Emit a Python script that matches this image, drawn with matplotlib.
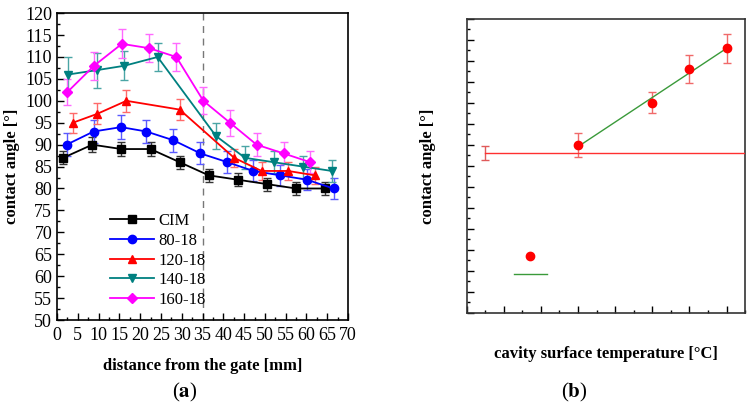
import numpy as np
import matplotlib
matplotlib.use("Agg")
import matplotlib.pyplot as plt
from matplotlib.ticker import MultipleLocator
from matplotlib.lines import Line2D

plt.rcParams['font.family'] = ['Liberation Serif', 'DejaVu Serif']
plt.rcParams['mathtext.fontset'] = 'stix'

# ---- Panel (a) data ----
series_names = ["CIM", "80-18", "120-18", "140-18", "160-18"]

cim_x = [1.5, 8.5, 15.5, 22.5, 29.5, 36.5, 43.5, 50.5, 57.5, 64.5]
cim_y = [87, 90, 89, 89, 86, 83, 82, 81, 80, 80]
cim_e = [1.5, 1.7, 1.7, 1.7, 1.5, 1.5, 1.5, 1.5, 1.5, 1.5]

s80_x = [2.3, 8.8, 15.4, 21.5, 28.0, 34.5, 41.0, 47.2, 53.7, 60.1, 66.5]
s80_y = [90, 93, 94, 93, 91, 88, 86, 84, 83, 82, 80]
s80_e = [2.6, 2.7, 2.8, 2.7, 2.6, 2.5, 2.5, 2.4, 2.4, 2.4, 2.4]

s120_x = [3.8, 9.6, 16.7, 29.5, 42.6, 49.2, 55.6, 62.0]
s120_y = [95, 97, 100, 98, 87, 84, 84, 83]
s120_e = [2.3, 2.4, 2.5, 2.4, 2.0, 2.0, 2.0, 2.0]

s140_x = [2.7, 9.6, 16.2, 24.2, 38.2, 45.2, 52.1, 59.1, 66.1]
s140_y = [106, 107, 108, 110, 92, 87, 86, 85, 84]
s140_e = [4.0, 4.0, 3.3, 3.3, 3.0, 2.6, 2.5, 2.5, 2.5]

s160_x = [2.5, 8.9, 15.6, 22.2, 28.7, 35.2, 41.6, 48.0, 54.5, 60.9]
s160_y = [102, 108, 113, 112, 110, 100, 95, 90, 88, 86]
s160_e = [3.0, 3.2, 3.3, 3.2, 3.3, 3.1, 3.0, 2.7, 2.5, 2.5]

gate_limit = 35

# ---- Panel (b) data ----
temps = [80, 120, 140, 160]
max_angle = [90, 100, 108, 113]
max_err = [2.8, 2.5, 3.3, 3.5]
cim_temp = 30
cim_level = 88
cim_level_err = 1.7

fig = plt.figure(figsize=(7.55, 4.11), dpi=100)

# ---------- Panel (a) ----------
axa = fig.add_axes([0.0755, 0.2214, 0.3855, 0.7466])
styles = [
    (cim_x, cim_y, cim_e, 's', '#000000', '#333333'),
    (s80_x, s80_y, s80_e, 'o', '#0000ff', '#5a5aff'),
    (s120_x, s120_y, s120_e, '^', '#ff0000', '#ff6a6a'),
    (s140_x, s140_y, s140_e, 'v', '#008080', '#4aa5a5'),
    (s160_x, s160_y, s160_e, 'D', '#ff00ff', '#ff6aff'),
]
handles = []
for (x, y, e, m, c, ec), name in zip(styles, series_names):
    axa.errorbar(x, y, yerr=e, fmt='none', ecolor=ec, elinewidth=1.0,
                 capsize=3, capthick=1.0, zorder=2)
    ms = 5 if m == 'D' else 6
    axa.plot(x, y, color=c, marker=m, markersize=ms, linewidth=1.3, zorder=3)
    handles.append(Line2D([], [], color=c, marker=m, markersize=ms, linewidth=1.3))

axa.axvline(gate_limit, color='#777777', linestyle=(0, (5, 4)), linewidth=1.0, zorder=1)
axa.set_xlim(0, 70)
axa.set_ylim(50, 120)
axa.xaxis.set_major_locator(MultipleLocator(5))
axa.xaxis.set_minor_locator(MultipleLocator(2.5))
axa.yaxis.set_major_locator(MultipleLocator(5))
axa.yaxis.set_minor_locator(MultipleLocator(2.5))
axa.tick_params(which='both', direction='in', labelsize=13, top=False, right=False)
axa.tick_params(which='major', length=5, width=1)
axa.tick_params(which='minor', length=2.5, width=1)
axa.tick_params(axis='x', pad=5)
for s in axa.spines.values():
    s.set_linewidth(1.2)
axa.set_xlabel("distance from the gate [mm]", fontsize=12, fontweight='bold', labelpad=10)
axa.set_ylabel("contact angle [°]", fontsize=12, fontweight='bold', labelpad=4)
axa.legend(handles, series_names, loc='upper left', bbox_to_anchor=(0.155, 0.375),
           frameon=False, fontsize=12, handlelength=2.6, handletextpad=0.3,
           labelspacing=0.22, borderpad=0)

fig.text(0.245, 0.045, r"($\mathbf{a}$)", ha='center', va='center', fontsize=15)

# ---------- Panel (b) ----------
axb = fig.add_axes([0.618, 0.239, 0.369, 0.715])
axb.errorbar(temps, max_angle, yerr=max_err, fmt='none', ecolor='#f06a6a',
             elinewidth=1.0, capsize=3, capthick=1.0, zorder=2)
axb.plot(temps, max_angle, linestyle='none', marker='o', color='#ff0000',
         markersize=6, zorder=4)
coef = np.polyfit(temps, max_angle, 1)
fit_x = np.array([temps[0], temps[-1]])
axb.plot(fit_x, np.polyval(coef, fit_x), color='#3a9a3a', linewidth=1.0, zorder=3)
axb.plot([cim_temp, 170], [cim_level, cim_level], color='#ff3030', linewidth=1.0, zorder=3)
axb.errorbar([cim_temp], [cim_level], yerr=[cim_level_err], fmt='none',
             ecolor='#e05a5a', elinewidth=1.0, capsize=3, capthick=1.0, zorder=2)
axb.set_xlim(20, 170)
axb.set_ylim(50, 120)
axb.xaxis.set_major_locator(MultipleLocator(20))
axb.xaxis.set_minor_locator(MultipleLocator(10))
axb.yaxis.set_major_locator(MultipleLocator(5))
axb.yaxis.set_minor_locator(MultipleLocator(2.5))
axb.tick_params(which='both', direction='in', labelleft=False, labelbottom=False,
                top=False, right=False)
axb.tick_params(which='major', length=5, width=1)
axb.tick_params(which='minor', length=2.5, width=1)
for s in axb.spines.values():
    s.set_linewidth(1.2)
    s.set_color('#333333')
axb.set_xlabel("cavity surface temperature [°C]", fontsize=12, fontweight='bold', labelpad=24)
axb.set_ylabel("contact angle [°]", fontsize=12, fontweight='bold', labelpad=22)
lh = [Line2D([], [], color='#ff0000', marker='o', markersize=6, linestyle='none'),
      Line2D([], [], color='#3a9a3a', linewidth=1.0)]
axb.legend(lh, ['', ''], loc='upper left', bbox_to_anchor=(0.146, 0.23),
           frameon=False, fontsize=9, handlelength=2.7, labelspacing=0.5, borderpad=0)

fig.text(0.76, 0.045, r"($\mathbf{b}$)", ha='center', va='center', fontsize=15)

fig.savefig("out.png", dpi=100)
